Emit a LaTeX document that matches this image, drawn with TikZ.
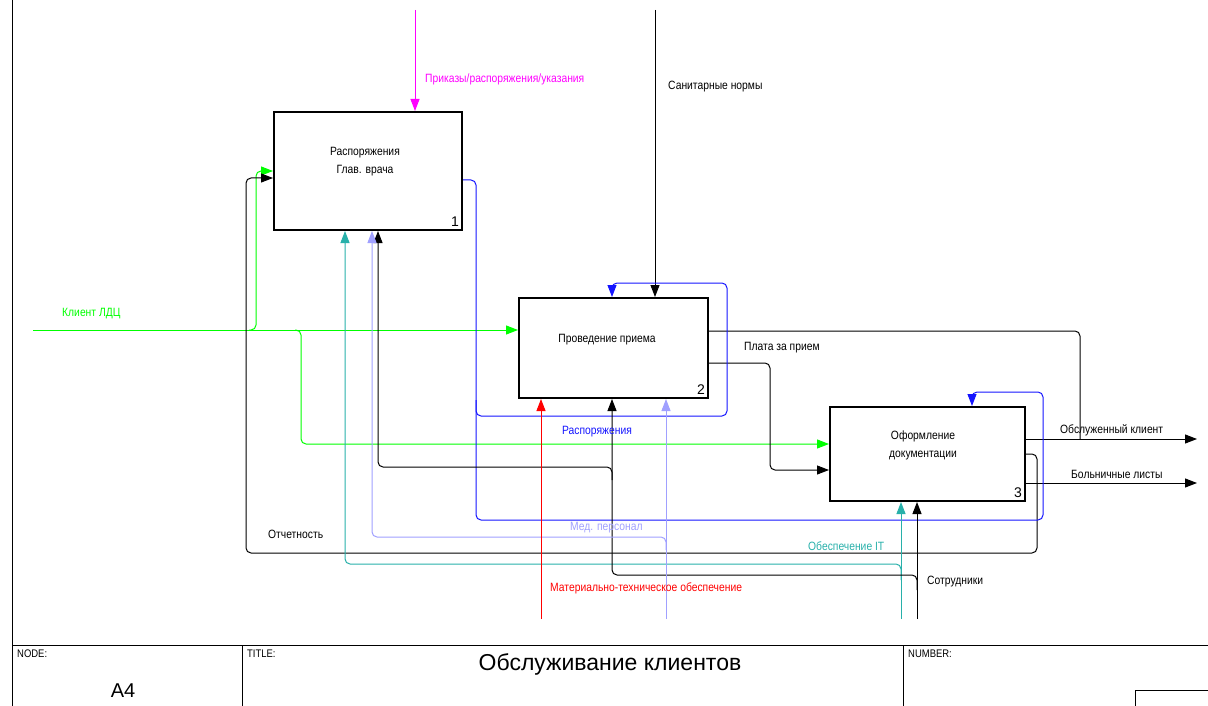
\documentclass[tikz,border=0pt]{standalone}
\usepackage{fontspec}
\setmainfont{Liberation Sans}
\newfontfamily\narrowfont{Liberation Sans}[FakeStretch=0.86]
\usetikzlibrary{arrows.meta,positioning,calc}

\definecolor{ctlmag}{RGB}{255,0,255}
\definecolor{inpgreen}{RGB}{0,255,0}
\definecolor{fbblue}{RGB}{20,20,255}
\definecolor{itteal}{RGB}{40,176,170}
\definecolor{medlilac}{RGB}{160,160,255}
\definecolor{mtred}{RGB}{255,0,0}

\begin{document}
\begin{tikzpicture}[x=1pt, y=-1pt,
    func/.style={rectangle, draw, line width=2pt, inner sep=0pt},
    ftext/.style={font=\narrowfont\fontsize{12}{18}\selectfont, align=center, inner sep=0pt},
    fnum/.style={anchor=south east, font=\fontsize{14}{14}\selectfont, inner sep=4pt},
    lnk/.style={line width=1pt, rounded corners=5pt},
    arr/.style={lnk, -{Triangle[length=12pt,width=9pt]}},
    lbl/.style={anchor=west, font=\narrowfont\fontsize{12}{12}\selectfont, inner sep=0pt},
    frm/.style={line width=1pt},
    tblk/.style={anchor=north west, font=\narrowfont\fontsize{11}{11}\selectfont, inner sep=0pt}
]
    \useasboundingbox (0,0) rectangle (1208,706);

    % Functions
    \node[func, minimum width=188pt, minimum height=118pt] (b1) at (368,171) {};
    \node[func, minimum width=189pt, minimum height=100pt] (b2) at (613.5,348) {};
    \node[func, minimum width=195pt, minimum height=94pt] (b3) at (927.5,454) {};
    \node[ftext] (t1) at (365,162) {Распоряжения\\Глав. врача};
    \node[ftext] (t2) at (607,340) {Проведение приема};
    \node[ftext] (t3) at (923,445) {Оформление\\документации};
    \node[fnum] (n1) at (b1.south east) {1};
    \node[fnum] (n2) at (b2.south east) {2};
    \node[fnum] (n3) at (b3.south east) {3};

    % Free ends and bends
    \coordinate (mTop) at (415,10);
    \coordinate (sTop) at (655,10);
    \coordinate (kIn) at (33,330);
    \coordinate (g2) at (301,444);
    \coordinate (otc1) at (1037,553);
    \coordinate (otc2) at (246,178);
    \coordinate (pl) at (770,470);
    \coordinate (ok) at (1080,439);
    \coordinate (out1) at (1197,439);
    \coordinate (out2) at (1197,483);
    \coordinate (bl1) at (476,520);
    \coordinate (bl2) at (1043,392);
    \coordinate (bl3) at (972,392);
    \coordinate (bl4) at (612,283);
    \coordinate (itBot) at (901,619);
    \coordinate (it1) at (345,564);
    \coordinate (sotBot) at (917,619);
    \coordinate (so1) at (612,575);
    \coordinate (so2) at (378,467);
    \coordinate (medBot) at (666,619);
    \coordinate (md1) at (372,537);
    \coordinate (mtBot) at (541,619);

    % Controls
    \draw[arr, ctlmag] (mTop) -- (mTop |- b1.north);
    \draw[arr] (sTop) -- (sTop |- b2.north);

    % Inputs
    \draw[arr, inpgreen] (kIn) -- (kIn -| b2.west);
    \draw[arr, inpgreen] (249,330) -| ($(b1.west)+(-17,0)$) -- (b1.west);
    \draw[arr, inpgreen] (295,330) -| (g2) -- (g2 -| b3.west);

    % Outputs and feedback
    \draw[arr] (b3.east) -| (otc1) -| (otc2) -- (otc2 -| b1.west);
    \draw[arr] ($(b2.east)+(0,15)$) -| (pl) -- (pl -| b3.west);
    \draw[lnk] ($(b2.east)+(0,-17)$) -| (ok);
    \draw[arr] ($(b3.east)+(0,-15)$) -- (out1);
    \draw[arr] ($(b3.east)+(0,29)$) -- (out2);
    \draw[arr, fbblue] ($(b1.east)+(0,9)$) -| (bl1) -| (bl2) -- (bl3) -- (bl3 |- b3.north);
    \draw[arr, fbblue] (476,400) |- (727,416) |- (bl4) -- (bl4 |- b2.north);

    % Mechanisms
    \draw[arr, itteal] (itBot) -- (itBot |- b3.south);
    \draw[arr, itteal] (901,580) |- (it1) -- (it1 |- b1.south);
    \draw[arr] (sotBot) -- (sotBot |- b3.south);
    \draw[arr] (917,590) |- (so1) -- (so1 |- b2.south);
    \draw[arr] (612,480) |- (so2) -- (so2 |- b1.south);
    \draw[arr, medlilac] (medBot) -- (medBot |- b2.south);
    \draw[arr, medlilac] (666,550) |- (md1) -- (md1 |- b1.south);
    \draw[arr, mtred] (mtBot) -- (mtBot |- b2.south);

    % Labels
    \node[lbl, ctlmag] (lPr) at (425,79) {Приказы/распоряжения/указания};
    \node[lbl] (lSan) at (668,87) {Санитарные нормы};
    \node[lbl, inpgreen] (lKl) at (62,314) {Клиент ЛДЦ};
    \node[lbl] (lPl) at (744,348) {Плата за прием};
    \node[lbl, fbblue] (lRas) at (562,432) {Распоряжения};
    \node[lbl] (lObs) at (1060,430) {Обслуженный клиент};
    \node[lbl] (lBol) at (1071,474) {Больничные листы};
    \node[lbl, medlilac] (lMed) at (570,528) {Мед. персонал};
    \node[lbl] (lOtc) at (268,534) {Отчетность};
    \node[lbl, itteal] (lIT) at (808,546) {Обеспечение IT};
    \node[lbl, mtred] (lMat) at (550,588) {Материально-техническое обеспечение};
    \node[lbl] (lSot) at (927,582) {Сотрудники};

    % Frame
    \draw[frm] (12,0) -- (12,706);
    \draw[frm] (12,645) -- (1208,645);
    \draw[frm] (242,645) -- (242,706);
    \draw[frm] (903,645) -- (903,706);
    \draw[frm] (1135,706) |- (1208,690);
    \node[tblk] (fNode) at (17,650) {NODE:};
    \node[tblk] (fTitle) at (247,650) {TITLE:};
    \node[tblk] (fNum) at (908,650) {NUMBER:};
    \node[font=\fontsize{23}{23}\selectfont, inner sep=0pt] (fName) at (610,664) {Обслуживание клиентов};
    \node[font=\fontsize{20}{20}\selectfont, inner sep=0pt] (fA) at (123,691) {A4};
\end{tikzpicture}
\end{document}
